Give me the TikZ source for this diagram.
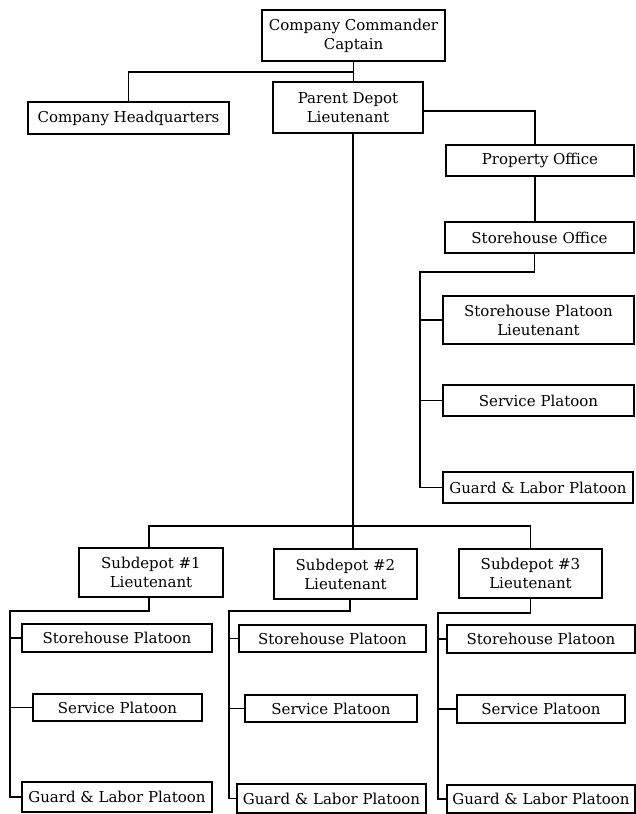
\documentclass[tikz,border=0pt]{standalone}
\usepackage{fontspec}
\setmainfont{DejaVu Serif}
\begin{document}
\begin{tikzpicture}[x=1pt,y=-1pt,
  unit/.style={draw,line width=1.8pt,inner sep=0pt,align=center,
    font=\fontsize{15}{19}\selectfont},
  link/.style={line width=1.5pt}]
\useasboundingbox[fill=white] (0,0) rectangle (636,814);

% command and staff
\node[unit,minimum width=183pt,minimum height=51pt] (cc)  at (353.5,35.5) {Company Commander\\Captain};
\node[unit,minimum width=201pt,minimum height=32pt] (chq) at (128.5,118) {Company Headquarters};
\node[unit,minimum width=150pt,minimum height=51pt] (pd)  at (348,107.5) {Parent Depot\\Lieutenant};
\node[unit,minimum width=188pt,minimum height=31pt] (po)  at (540,160.5) {Property Office};
\node[unit,minimum width=189pt,minimum height=31pt] (so)  at (539.5,237.5) {Storehouse Office};

% parent depot platoons
\node[unit,minimum width=191pt,minimum height=48pt] (spl) at (538.5,320) {Storehouse Platoon\\Lieutenant};
\node[unit,minimum width=191pt,minimum height=31pt] (sp)  at (538.5,400.5) {Service Platoon};
\node[unit,minimum width=190pt,minimum height=31pt] (gl)  at (538,487.5) {Guard \& Labor Platoon};

% subdepots
\node[unit,minimum width=144pt,minimum height=49pt] (sd1) at (151,572.5) {Subdepot \#1\\Lieutenant};
\node[unit,minimum width=143pt,minimum height=50pt] (sd2) at (345.5,574) {Subdepot \#2\\Lieutenant};
\node[unit,minimum width=143pt,minimum height=49pt] (sd3) at (530.5,573.5) {Subdepot \#3\\Lieutenant};

% subdepot platoons
\node[unit,minimum width=190pt,minimum height=28pt] (sh1) at (117,638) {Storehouse Platoon};
\node[unit,minimum width=169pt,minimum height=27pt] (sv1) at (117.5,707.5) {Service Platoon};
\node[unit,minimum width=190pt,minimum height=30pt] (gl1) at (117,797) {Guard \& Labor Platoon};
\node[unit,minimum width=187pt,minimum height=27pt] (sh2) at (332.5,638.5) {Storehouse Platoon};
\node[unit,minimum width=172pt,minimum height=27pt] (sv2) at (331,708.5) {Service Platoon};
\node[unit,minimum width=189pt,minimum height=29pt] (gl2) at (331.5,798.5) {Guard \& Labor Platoon};
\node[unit,minimum width=188pt,minimum height=28pt] (sh3) at (541,639) {Storehouse Platoon};
\node[unit,minimum width=168pt,minimum height=28pt] (sv3) at (541,709) {Service Platoon};
\node[unit,minimum width=188pt,minimum height=28pt] (gl3) at (541,799) {Guard \& Labor Platoon};

% junction points
\coordinate (j0) at (354,72);
\coordinate (t0) at (420,272);
\coordinate (t1) at (10,611);
\coordinate (t2) at (229,611);
\coordinate (t3) at (438,613);

% top level
\draw[link] (cc.south) -- (cc.south |- pd.north);
\draw[link] (j0) -| (chq.north);
\draw[link] ([yshift=-3.5pt]pd.east) -| ([xshift=-5pt]po.north);
\draw[link] ([xshift=-5pt]po.south) -- ([xshift=-5pt]po.south |- so.north);

% storehouse office branch
\draw[link] ([xshift=-5pt]so.south) |- (t0) |- (gl.west);
\draw[link] (t0 |- spl.west) -- (spl.west);
\draw[link] (t0 |- sp.west) -- (sp.west);

% parent depot to subdepots
\draw[link] ([xshift=5pt]pd.south) -- ([xshift=5pt]pd.south |- sd2.north);
\draw[link] ([xshift=-2pt]sd1.north) -- ++(0,-21) -| (sd3.north);

% subdepot branches
\draw[link] ([xshift=-2pt]sd1.south) |- (t1) |- (gl1.west);
\draw[link] (t1 |- sh1.west) -- (sh1.west);
\draw[link] (t1 |- sv1.west) -- (sv1.west);
\draw[link] ([xshift=4.5pt]sd2.south) |- (t2) |- (gl2.west);
\draw[link] (t2 |- sh2.west) -- (sh2.west);
\draw[link] (t2 |- sv2.west) -- (sv2.west);
\draw[link] (sd3.south) |- (t3) |- (gl3.west);
\draw[link] (t3 |- sh3.west) -- (sh3.west);
\draw[link] (t3 |- sv3.west) -- (sv3.west);
\end{tikzpicture}
\end{document}
